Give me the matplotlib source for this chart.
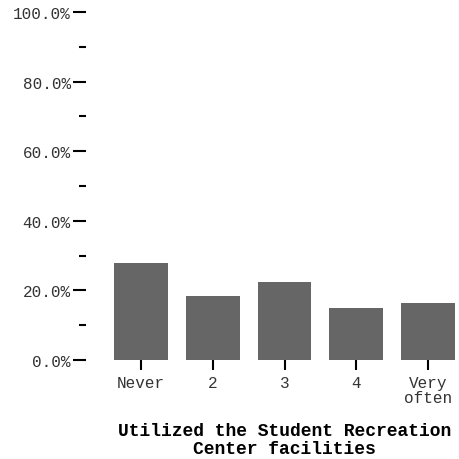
import matplotlib
matplotlib.use("Agg")
import matplotlib.pyplot as plt
from matplotlib.ticker import FixedLocator, FuncFormatter

categories = ["Never", "2", "3", "4", "Very\noften"]
percents = [27.9, 18.4, 22.4, 14.9, 16.4]
major_ticks = [0, 20, 40, 60, 80, 100]
minor_ticks = [10, 30, 50, 70, 90]
x_title = "Utilized the Student Recreation\nCenter facilities"

plt.rcParams["font.family"] = ["Liberation Mono", "DejaVu Sans Mono"]

fig = plt.figure(figsize=(4.6, 4.6), dpi=100)
# axes box in pixel terms: x 105..460, y 13..361 (from top)
ax = fig.add_axes([105 / 460, 99 / 460, 355 / 460, 348 / 460])

xs = list(range(len(categories)))
ax.bar(xs, percents, width=0.75, color="#666666")

ax.set_xlim(-0.502, 4.446)
ax.set_ylim(0, 100)

for s in ax.spines.values():
    s.set_visible(False)
ax.spines["left"].set_position(("outward", 13.7))

ax.yaxis.set_major_locator(FixedLocator(major_ticks))
ax.yaxis.set_minor_locator(FixedLocator(minor_ticks))
ax.yaxis.set_major_formatter(FuncFormatter(lambda v, p: "%.1f%%" % v))
ax.tick_params(axis="y", which="major", length=9.4, width=1.5, pad=1.5,
               labelsize=11.5, labelcolor="#333333", color="black")
ax.tick_params(axis="y", which="minor", length=5, width=1.5, color="black")

ax.set_xticks(xs)
ax.set_xticklabels(categories, linespacing=1.0)
ax.tick_params(axis="x", length=7.5, width=1.5, pad=3, labelsize=11.5,
               labelcolor="#333333", color="black")

ax.text(2, -0.178, x_title, transform=ax.get_xaxis_transform(),
        ha="center", va="top", fontsize=13, fontweight="bold",
        linespacing=1.05, color="black")

fig.savefig("out.png", dpi=100)
